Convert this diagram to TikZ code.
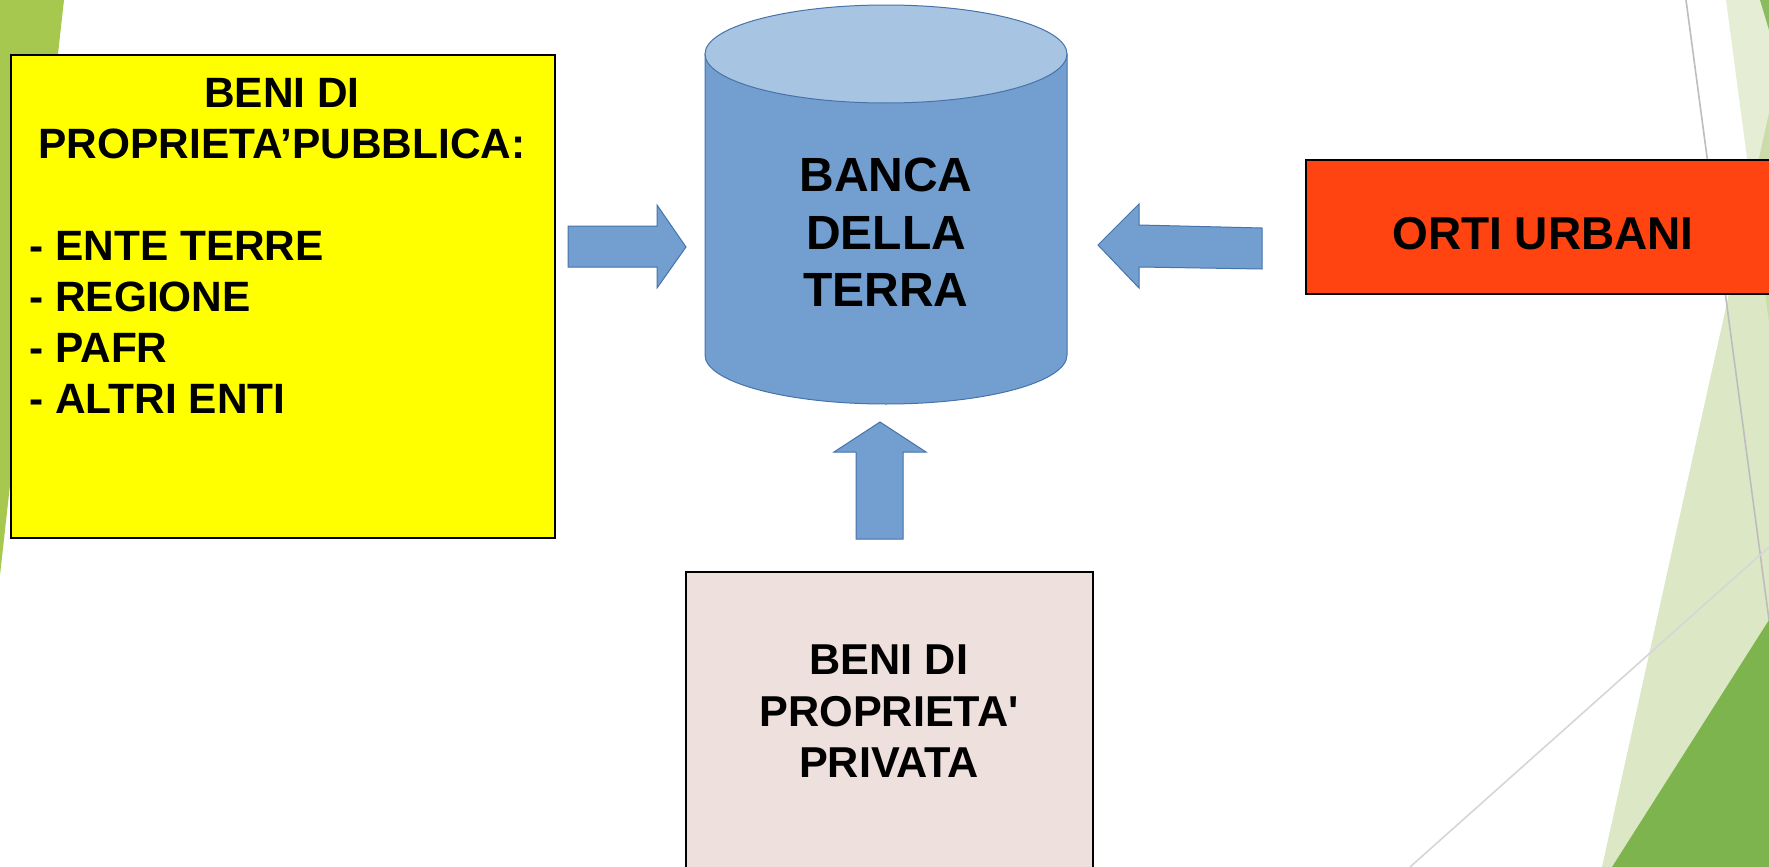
\documentclass[tikz,border=0pt]{standalone}
\usepackage{fontspec}
\setmainfont{Liberation Sans}
\definecolor{cylbody}{HTML}{729FCF}
\definecolor{cyltop}{HTML}{A7C4E3}
\definecolor{cylline}{HTML}{4772AA}
\definecolor{pubyellow}{RGB}{255,255,0}
\definecolor{ortired}{HTML}{FF4411}
\definecolor{privpink}{HTML}{EEE0DC}
\definecolor{leftgreen}{HTML}{A6C84E}
\definecolor{olivebase}{HTML}{9BBB59}
\definecolor{darkgreen}{HTML}{7DB44E}
\definecolor{decoline}{HTML}{BDBDBD}
\definecolor{decoline2}{HTML}{D6D6D6}
\begin{document}
\begin{tikzpicture}[x=0.5pt,y=-0.5pt,
  boxstyle/.style={draw=black, line width=1pt, inner sep=0pt, anchor=north west},
  lbl/.style={inner sep=0pt, align=center},
  blockarrow/.style={fill=cylbody, draw=cylline, line width=0.5pt, line join=miter},
  deco/.style={line width=0.8pt},
]
\useasboundingbox (0,0) rectangle (1769,867);
\clip (0,0) rectangle (1769,867);
\fill[white] (0,0) rectangle (1769,867);
% background decoration
\fill[leftgreen] (0,0) -- (64,0) -- (0,575) -- cycle;
\fill[olivebase, opacity=0.25] (1726,0) -- (1769,323) -- (1769,0) -- cycle;
\fill[olivebase, opacity=0.34] (1769,113) -- (1602,867) -- (1769,867) -- cycle;
\fill[darkgreen!90!white] (1760,0) -- (1769,0) -- (1769,30) -- cycle;
\draw[deco, decoline] (1686,0) -- (1769,620);
\draw[deco, decoline2] (1769,547) -- (1410,867);
\fill[darkgreen] (1769,620) -- (1612,867) -- (1769,867) -- cycle;
% boxes
\node[boxstyle, fill=pubyellow, minimum width=272.2pt, minimum height=241.5pt] (pub) at (9.6,54) {};
\node[boxstyle, fill=ortired, minimum width=238pt, minimum height=67pt] (orti) at (1305,159) {};
\node[boxstyle, fill=privpink, minimum width=203.5pt, minimum height=170pt] (priv) at (685,571) {};
% cylinder
\filldraw[fill=cylbody, draw=cylline, line width=0.5pt] (705,54) -- (705,355)
  arc[start angle=180, end angle=360, x radius=90.5pt, y radius=24.5pt] -- (1067,54) -- cycle;
\filldraw[fill=cyltop, draw=cylline, line width=0.5pt] (886,54) ellipse[x radius=90.5pt, y radius=24.5pt];
% block arrows
\filldraw[blockarrow] (568,226) -- (657,226) -- (657,205) -- (686,247) -- (657,288) -- (657,267) -- (568,267) -- cycle;
\filldraw[blockarrow] (1262,228) -- (1139,225) -- (1139,204) -- (1098,245) -- (1139,288) -- (1139,267) -- (1262,269) -- cycle;
\filldraw[blockarrow] (856,539) -- (856,452) -- (834,452) -- (880,422) -- (926,452) -- (903,452) -- (903,539) -- cycle;
% texts
\node[lbl, font=\bfseries\fontsize{21.2}{25.6}\selectfont] (pubtitle) at (282,118.5) {BENI DI\\PROPRIETA’PUBBLICA:};
\node[lbl, align=left, anchor=west, font=\bfseries\fontsize{21.2}{25.6}\selectfont] (publist) at (29,322.5) {- ENTE TERRE\\- REGIONE\\- PAFR\\- ALTRI ENTI};
\node[lbl, font=\bfseries\fontsize{24}{28.75}\selectfont] (bank) at (886,232.5) {BANCA\\DELLA\\TERRA};
\node[lbl, font=\bfseries\fontsize{23}{27}\selectfont] (ortitext) at (1543,234) {ORTI URBANI};
\node[lbl, font=\bfseries\fontsize{21.6}{25.75}\selectfont] (privtext) at (889,711.5) {BENI DI\\PROPRIETA\textquotesingle\\PRIVATA};
\end{tikzpicture}
\end{document}
